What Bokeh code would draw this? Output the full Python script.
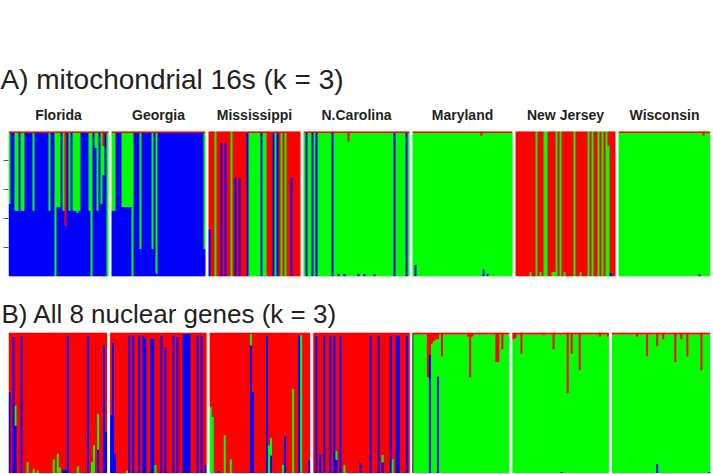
from bokeh.plotting import figure
from bokeh.models import Range1d, FixedTicker, ColumnDataSource, Span
from bokeh.layouts import column
from bokeh.embed import file_html
from bokeh.resources import INLINE
from bokeh.core.properties import value

POPULATIONS = ["Florida", "Georgia", "Mississippi", "N.Carolina", "Maryland", "New Jersey", "Wisconsin"]
TITLE_A = "A) mitochondrial 16s (k = 3)"
TITLE_B = "B) All 8 nuclear genes (k = 3)"

# individuals per population
A_SIZES = [50, 47, 46, 53, 50, 50, 46]
B_SIZES = [49, 48, 50, 48, 48, 48, 49]

# typical membership (red, green, blue) of the individuals of each population
A_TYPICAL = [(0.01, 0.0, 0.99), (0.01, 0.0, 0.99), (1.0, 0.0, 0.0), (0.01, 0.99, 0.0),
             (0.01, 0.99, 0.0), (1.0, 0.0, 0.0), (0.01, 0.99, 0.0)]
B_TYPICAL = [(1.0, 0.0, 0.0), (1.0, 0.0, 0.0), (1.0, 0.0, 0.0), (1.0, 0.0, 0.0),
             (0.015, 0.985, 0.0), (0.015, 0.985, 0.0), (0.015, 0.985, 0.0)]

# individuals that differ: (index, red, green, blue)
A_FLORIDA = [(0, 0.01, 0.49, 0.50), (3, 0.01, 0.535, 0.455), (4, 0.01, 0.535, 0.455),
             (6, 0.01, 0.535, 0.455), (7, 0.01, 0.535, 0.455), (12, 0.01, 0.535, 0.455),
             (20, 0.01, 0.535, 0.455), (23, 0.01, 0.99, 0.0), (24, 0.01, 0.51, 0.48),
             (25, 0.01, 0.51, 0.48), (27, 0.01, 0.535, 0.455), (28, 0.65, 0.0, 0.35),
             (30, 0.01, 0.535, 0.455), (32, 0.01, 0.535, 0.455), (33, 0.01, 0.535, 0.455),
             (34, 0.01, 0.55, 0.44), (35, 0.01, 0.535, 0.455), (40, 0.01, 0.535, 0.455),
             (41, 0.01, 0.99, 0.0), (43, 0.01, 0.10, 0.89), (44, 0.01, 0.535, 0.455),
             (46, 0.01, 0.49, 0.50), (47, 0.10, 0.20, 0.70), (49, 0.01, 0.99, 0.0)]
A_GEORGIA = [(0, 0.01, 0.535, 0.455), (1, 0.01, 0.535, 0.455), (5, 0.01, 0.51, 0.48),
             (6, 0.01, 0.51, 0.48), (7, 0.01, 0.51, 0.48), (8, 0.01, 0.51, 0.48),
             (9, 0.01, 0.51, 0.48), (10, 0.01, 0.99, 0.0), (14, 0.01, 0.80, 0.19),
             (20, 0.01, 0.80, 0.19), (22, 0.01, 0.97, 0.02), (46, 0.01, 0.80, 0.19)]
A_MISSISSIPPI = [(0, 0.67, 0.0, 0.33), (3, 0.0, 1.0, 0.0), (6, 0.08, 0.0, 0.92),
                 (8, 0.08, 0.0, 0.92), (11, 0.0, 1.0, 0.0), (13, 0.32, 0.0, 0.68),
                 (15, 0.32, 0.0, 0.68), (19, 0.01, 0.0, 0.99), (20, 0.01, 0.99, 0.0),
                 (21, 0.01, 0.99, 0.0), (22, 0.01, 0.99, 0.0), (23, 0.01, 0.99, 0.0),
                 (24, 0.01, 0.99, 0.0), (25, 0.01, 0.99, 0.0), (26, 0.01, 0.0, 0.99),
                 (27, 0.01, 0.99, 0.0), (28, 0.01, 0.99, 0.0), (32, 0.01, 0.0, 0.99),
                 (33, 0.01, 0.99, 0.0), (34, 0.01, 0.0, 0.99), (36, 0.01, 0.99, 0.0),
                 (38, 0.01, 0.99, 0.0), (41, 0.32, 0.0, 0.68)]
A_NCAROLINA = [(1, 0.01, 0.0, 0.99), (4, 0.01, 0.0, 0.99), (6, 0.01, 0.0, 0.99),
               (14, 0.01, 0.0, 0.99), (17, 0.01, 0.97, 0.02), (20, 0.01, 0.97, 0.02),
               (22, 0.07, 0.93, 0.0), (27, 0.01, 0.97, 0.02), (30, 0.01, 0.97, 0.02),
               (35, 0.01, 0.97, 0.02), (45, 0.01, 0.0, 0.99), (51, 0.01, 0.0, 0.99)]
A_MARYLAND = [(1, 0.01, 0.91, 0.08), (34, 0.03, 0.97, 0.0), (35, 0.01, 0.94, 0.05),
              (37, 0.01, 0.97, 0.02)]
A_NEWJERSEY = [(7, 0.97, 0.03, 0.0), (10, 0.0, 1.0, 0.0), (12, 0.97, 0.03, 0.0),
               (14, 0.0, 1.0, 0.0), (15, 0.0, 1.0, 0.0), (18, 0.97, 0.03, 0.0),
               (19, 0.97, 0.03, 0.0), (20, 0.0, 1.0, 0.0), (22, 0.0, 1.0, 0.0),
               (24, 0.97, 0.03, 0.0), (29, 0.0, 1.0, 0.0), (32, 0.97, 0.03, 0.0),
               (36, 0.0, 1.0, 0.0), (38, 0.0, 1.0, 0.0), (41, 0.0, 1.0, 0.0),
               (43, 0.0, 1.0, 0.0), (45, 0.0, 1.0, 0.0), (46, 0.10, 0.90, 0.0),
               (47, 0.97, 0.0, 0.03)]
A_WISCONSIN = [(40, 0.01, 0.97, 0.02), (42, 0.03, 0.97, 0.0)]

B_FLORIDA = [(0, 0.42, 0.0, 0.58), (2, 0.03, 0.0, 0.97), (3, 0.52, 0.14, 0.34),
             (6, 0.02, 0.0, 0.98), (9, 0.92, 0.08, 0.0), (12, 0.97, 0.03, 0.0),
             (14, 0.98, 0.02, 0.0), (22, 0.90, 0.10, 0.0), (24, 0.86, 0.14, 0.0),
             (25, 0.96, 0.04, 0.0), (27, 0.97, 0.0, 0.03), (28, 0.97, 0.0, 0.03),
             (29, 0.02, 0.0, 0.98), (34, 0.95, 0.05, 0.0), (39, 0.02, 0.0, 0.98),
             (41, 0.92, 0.08, 0.0), (42, 0.80, 0.20, 0.0), (44, 0.58, 0.25, 0.17),
             (47, 0.09, 0.0, 0.91), (48, 0.70, 0.0, 0.30)]
B_GEORGIA = [(0, 0.58, 0.0, 0.42), (1, 0.07, 0.0, 0.93), (2, 0.86, 0.0, 0.14),
             (8, 0.98, 0.02, 0.0), (9, 0.02, 0.0, 0.98), (11, 0.02, 0.0, 0.98),
             (14, 0.02, 0.0, 0.98), (16, 0.02, 0.0, 0.98), (17, 0.04, 0.0, 0.96),
             (20, 0.04, 0.0, 0.96), (21, 0.04, 0.0, 0.96), (22, 0.94, 0.06, 0.0),
             (25, 0.02, 0.0, 0.98), (27, 0.10, 0.0, 0.90), (31, 0.02, 0.0, 0.98),
             (33, 0.03, 0.0, 0.97), (36, 0.01, 0.0, 0.99), (37, 0.01, 0.0, 0.99),
             (38, 0.01, 0.0, 0.99), (39, 0.01, 0.0, 0.99), (43, 0.02, 0.0, 0.98),
             (45, 0.02, 0.0, 0.98), (47, 0.94, 0.0, 0.06)]
B_MISSISSIPPI = [(0, 0.53, 0.47, 0.0), (1, 0.60, 0.40, 0.0), (4, 0.98, 0.0, 0.02),
                 (7, 0.73, 0.27, 0.0), (10, 0.90, 0.10, 0.0), (20, 0.01, 0.08, 0.91),
                 (21, 0.42, 0.0, 0.58), (28, 0.02, 0.0, 0.98), (29, 0.80, 0.20, 0.0),
                 (30, 0.75, 0.12, 0.13), (36, 0.94, 0.06, 0.0), (37, 0.73, 0.0, 0.27),
                 (41, 0.40, 0.60, 0.0), (44, 0.02, 0.0, 0.98), (45, 0.02, 0.98, 0.0),
                 (49, 0.90, 0.0, 0.10)]
B_NCAROLINA = [(1, 0.02, 0.0, 0.98), (3, 0.86, 0.0, 0.14), (5, 0.02, 0.0, 0.98),
               (8, 0.02, 0.0, 0.98), (10, 0.02, 0.0, 0.98), (11, 0.84, 0.06, 0.10),
               (13, 0.02, 0.0, 0.98), (15, 0.94, 0.06, 0.0), (23, 0.92, 0.0, 0.08),
               (28, 0.02, 0.0, 0.98), (32, 0.02, 0.0, 0.98), (34, 0.87, 0.05, 0.08),
               (38, 0.02, 0.0, 0.98), (39, 0.90, 0.10, 0.0), (41, 0.02, 0.0, 0.98),
               (42, 0.02, 0.0, 0.98), (46, 0.02, 0.0, 0.98)]
B_MARYLAND = [(7, 0.32, 0.68, 0.0), (8, 0.16, 0.0, 0.84), (9, 0.08, 0.92, 0.0),
              (10, 0.06, 0.94, 0.0), (11, 0.05, 0.95, 0.0), (12, 0.05, 0.26, 0.69),
              (14, 0.17, 0.83, 0.0), (27, 0.03, 0.97, 0.0), (28, 0.32, 0.68, 0.0),
              (29, 0.03, 0.97, 0.0), (41, 0.21, 0.79, 0.0), (42, 0.21, 0.79, 0.0),
              (44, 0.12, 0.88, 0.0)]
B_NEWJERSEY = [(0, 0.05, 0.95, 0.0), (1, 0.04, 0.96, 0.0), (4, 0.15, 0.85, 0.0),
               (15, 0.02, 0.98, 0.0), (20, 0.12, 0.88, 0.0), (24, 0.015, 0.975, 0.01),
               (27, 0.43, 0.57, 0.0), (29, 0.15, 0.85, 0.0), (33, 0.27, 0.73, 0.0),
               (43, 0.03, 0.97, 0.0), (47, 0.03, 0.97, 0.0)]
B_WISCONSIN = [(12, 0.03, 0.97, 0.0), (17, 0.17, 0.83, 0.0), (22, 0.10, 0.83, 0.07),
               (25, 0.05, 0.95, 0.0), (31, 0.21, 0.79, 0.0), (34, 0.05, 0.95, 0.0),
               (37, 0.17, 0.83, 0.0), (44, 0.27, 0.73, 0.0), (48, 0.015, 0.975, 0.01)]

A_EXCEPTIONS = [A_FLORIDA, A_GEORGIA, A_MISSISSIPPI, A_NCAROLINA, A_MARYLAND, A_NEWJERSEY, A_WISCONSIN]
B_EXCEPTIONS = [B_FLORIDA, B_GEORGIA, B_MISSISSIPPI, B_NCAROLINA, B_MARYLAND, B_NEWJERSEY, B_WISCONSIN]
Y_TICKS = [0.2, 0.4, 0.6, 0.8]

RED, GREEN, BLUE = "#ff0000", "#00ff00", "#0000ff"
GAP = 1.5
OVERLAP = 0.35   # bars overlap the next one slightly so no seams show
TEXT_COLOR = "#231f20"
FONT = "Liberation Sans"


def build(sizes, typical, exceptions):
    d = dict(left=[], right=[], bottom=[], top=[], color=[])
    starts, centers = [], []
    start = 0.0
    for n, base, exc in zip(sizes, typical, exceptions):
        q = [base] * n
        for i, r, g, b in exc:
            q[i] = (r, g, b)
        for i, (r, g, b) in enumerate(q):
            s = r + g + b
            level = 0.0
            ext = OVERLAP if i < n - 1 else 0.0
            for frac, col in ((b / s, BLUE), (g / s, GREEN), (r / s, RED)):
                if frac > 0:
                    d["left"].append(start + i)
                    d["right"].append(start + i + 1 + ext)
                    d["bottom"].append(level)
                    d["top"].append(level + frac)
                    d["color"].append(col)
                    level += frac
        starts.append(start)
        centers.append(start + n / 2)
        start += n + GAP
    return ColumnDataSource(d), starts, centers, start - GAP


def make_fig(title, size, height, y_end, border_top, border_bottom, border_left,
             border_right, total, standoff):
    p = figure(width=712, height=height, output_backend="svg", toolbar_location=None,
               x_range=Range1d(0, total), y_range=Range1d(0, y_end),
               min_border_left=border_left, min_border_right=border_right,
               min_border_top=border_top, min_border_bottom=border_bottom)
    p.title.text = title
    p.title.text_font = FONT
    p.title.text_font_size = size
    p.title.text_font_style = "normal"
    p.title.text_color = TEXT_COLOR
    p.title.align = "left"
    p.title.offset = -border_left
    p.title.standoff = standoff
    p.xaxis.visible = False
    p.xgrid.visible = False
    p.ygrid.visible = False
    p.outline_line_color = None
    return p


srcA, startsA, centersA, totalA = build(A_SIZES, A_TYPICAL, A_EXCEPTIONS)
srcB, startsB, centersB, totalB = build(B_SIZES, B_TYPICAL, B_EXCEPTIONS)

pA = make_fig(TITLE_A, "28px", 286, 1.2138, 100, 10, 8, 0, totalA, 11)
pA.yaxis.ticker = FixedTicker(ticks=Y_TICKS)
pA.yaxis.minor_tick_line_color = None
pA.yaxis.axis_line_color = None
pA.yaxis.major_label_text_color = None
pA.yaxis.major_label_standoff = 0
pA.yaxis.major_tick_in = 0
pA.yaxis.major_tick_out = 5
pA.yaxis.major_tick_line_color = "#555555"
pA.quad(left="left", right="right", bottom="bottom", top="top", source=srcA,
        fill_color="color", line_color=None)
pA.text(x=centersA, y=[1.117] * len(centersA), text=POPULATIONS,
        text_font=value(FONT), text_font_size="14px", text_font_style="bold",
        text_align="center", text_baseline="middle", text_color=TEXT_COLOR)

pB = make_fig(TITLE_B, "26px", 187, 1.0, 46, 0, 7, 2, totalB, 8)
pB.yaxis.visible = False
pB.quad(left="left", right="right", bottom="bottom", top="top", source=srcB,
        fill_color="color", line_color=None)
pB.add_layout(Span(location=startsB[4], dimension="height", line_color="#222222", line_width=1))

layout = column(pA, pB)
open("out.html", "w").write(file_html(layout, INLINE))
